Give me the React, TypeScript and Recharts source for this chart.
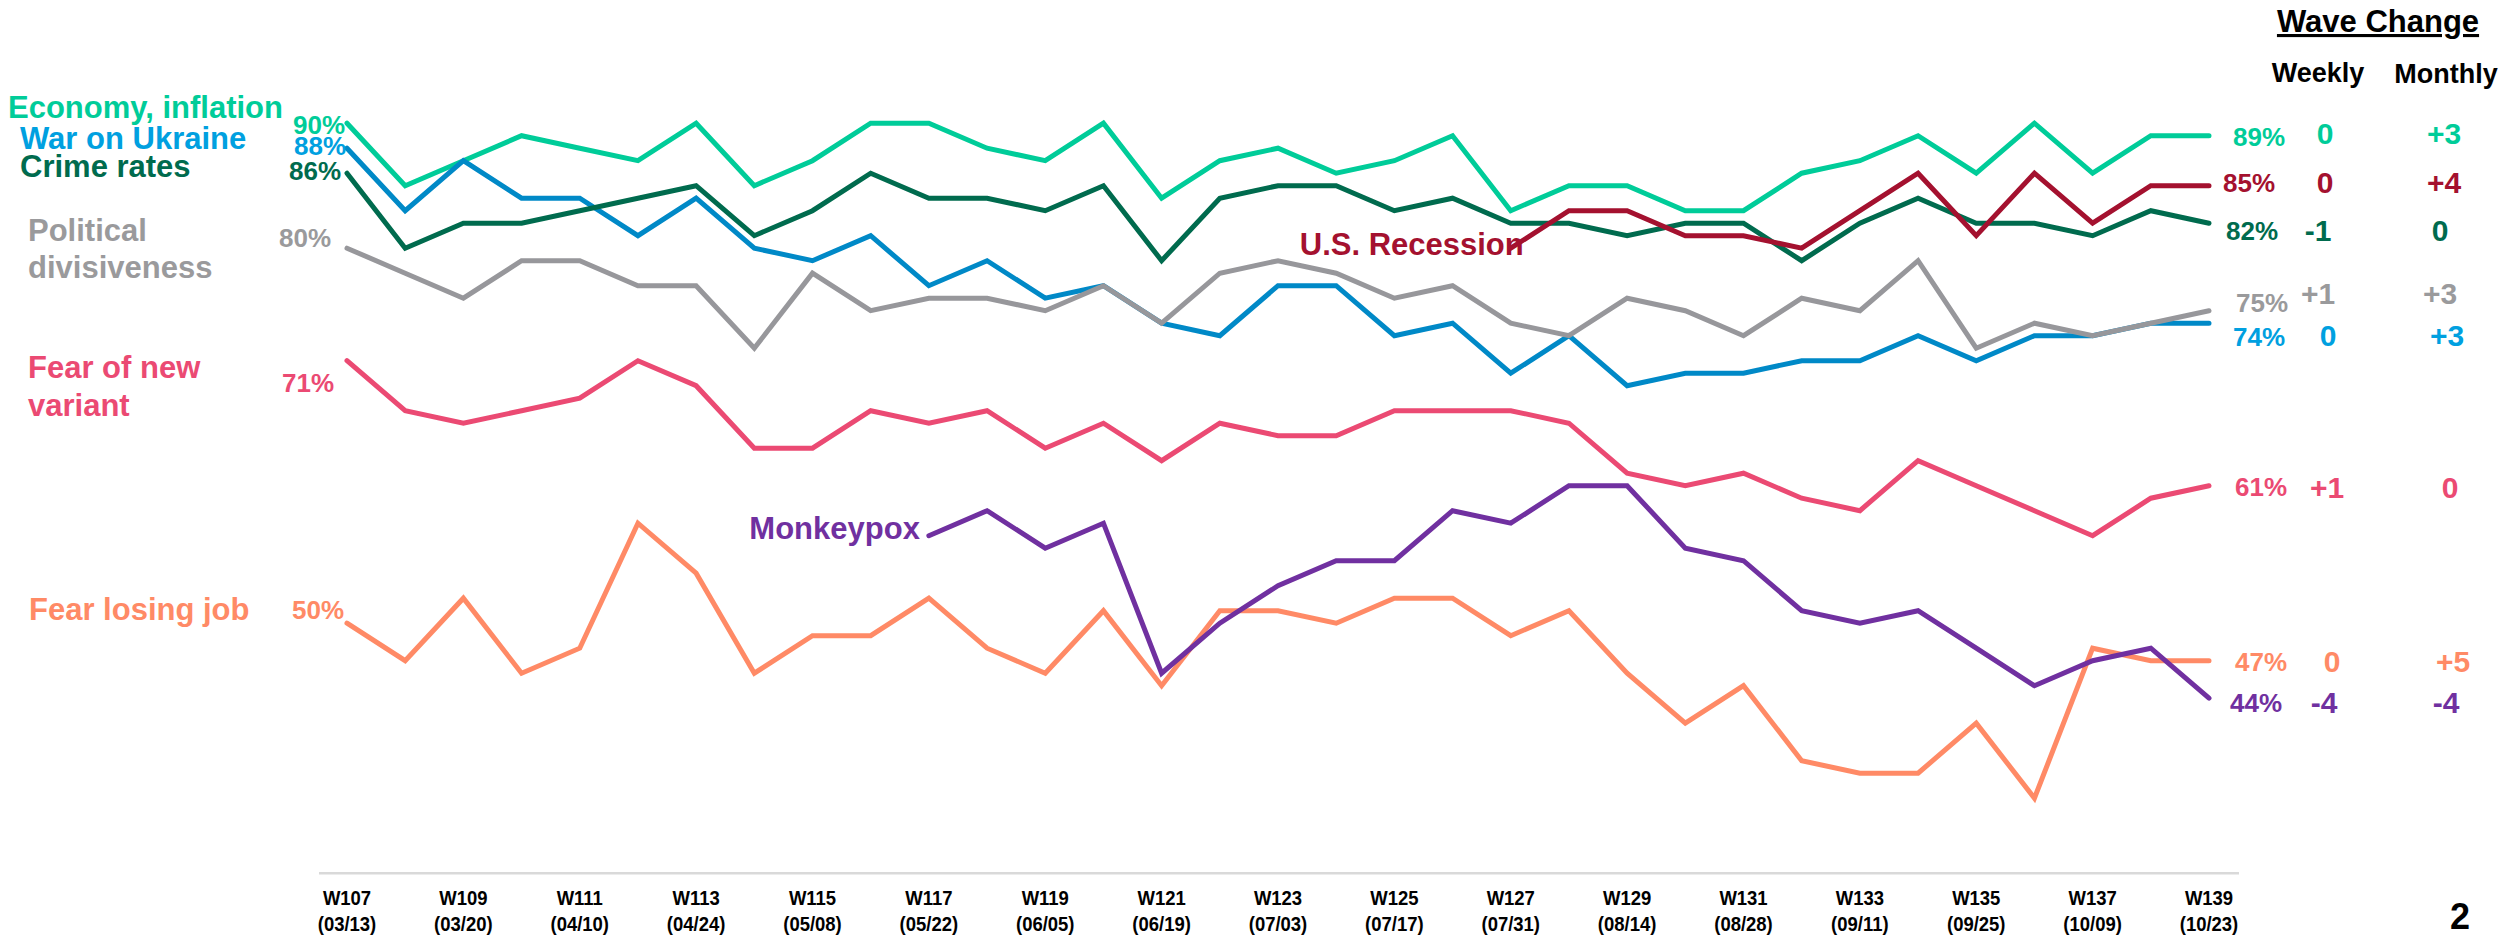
import React from 'react';
import { LineChart, Line, XAxis, YAxis, LabelList } from 'recharts';

const FONT = '"Liberation Sans", Arial, Helvetica, sans-serif';

// ---------- data ----------
const weeks = [
  'W107', 'W108', 'W109', 'W110', 'W111', 'W112', 'W113', 'W114', 'W115', 'W116', 'W117',
  'W118', 'W119', 'W120', 'W121', 'W122', 'W123', 'W124', 'W125', 'W126', 'W127', 'W128',
  'W129', 'W130', 'W131', 'W132', 'W133', 'W134', 'W135', 'W136', 'W137', 'W138', 'W139',
];
const tickWeeks = ['W107', 'W109', 'W111', 'W113', 'W115', 'W117', 'W119', 'W121', 'W123', 'W125', 'W127', 'W129', 'W131', 'W133', 'W135', 'W137', 'W139'];
const tickDates = ['03/13', '03/20', '04/10', '04/24', '05/08', '05/22', '06/05', '06/19', '07/03', '07/17', '07/31', '08/14', '08/28', '09/11', '09/25', '10/09', '10/23'];

const economy = [90, 85, 87, 89, 88, 87, 90, 85, 87, 90, 90, 88, 87, 90, 84, 87, 88, 86, 87, 89, 83, 85, 85, 83, 83, 86, 87, 89, 86, 90, 86, 89, 89];
const ukraine = [88, 83, 87, 84, 84, 81, 84, 80, 79, 81, 77, 79, 76, 77, 74, 73, 77, 77, 73, 74, 70, 73, 69, 70, 70, 71, 71, 73, 71, 73, 73, 74, 74];
const crime = [86, 80, 82, 82, 83, 84, 85, 81, 83, 86, 84, 84, 83, 85, 79, 84, 85, 85, 83, 84, 82, 82, 81, 82, 82, 79, 82, 84, 82, 82, 81, 83, 82];
const recession = [null, null, null, null, null, null, null, null, null, null, null, null, null, null, null, null, null, null, null, null,
  80, 83, 83, 81, 81, 80, 83, 86, 81, 86, 82, 85, 85];
const political = [80, 78, 76, 79, 79, 77, 77, 72, 78, 75, 76, 76, 75, 77, 74, 78, 79, 78, 76, 77, 74, 73, 76, 75, 73, 76, 75, 79, 72, 74, 73, 74, 75];
const variant = [71, 67, 66, 67, 68, 71, 69, 64, 64, 67, 66, 67, 64, 66, 63, 66, 65, 65, 67, 67, 67, 66, 62, 61, 62, 60, 59, 63, 61, 59, 57, 60, 61];
const job = [50, 47, 52, 46, 48, 58, 54, 46, 49, 49, 52, 48, 46, 51, 45, 51, 51, 50, 52, 52, 49, 51, 46, 42, 45, 39, 38, 38, 42, 36, 48, 47, 47];
const monkeypox = [null, null, null, null, null, null, null, null, null, null,
  57, 59, 56, 58, 46, 50, 53, 55, 55, 59, 58, 61, 61, 56, 55, 51, 50, 51, 48, 45, 47, 48, 44];

const seriesKeys = ['economy', 'ukraine', 'crime', 'recession', 'political', 'variant', 'job', 'monkeypox'];
const seriesValues: Record<string, (number | null)[]> = { economy, ukraine, crime, recession, political, variant, job, monkeypox };
const seriesNames: Record<string, string[]> = {
  economy: ['Economy, inflation'],
  ukraine: ['War on Ukraine'],
  crime: ['Crime rates'],
  recession: ['U.S. Recession'],
  political: ['Political', 'divisiveness'],
  variant: ['Fear of new', 'variant'],
  job: ['Fear losing job'],
  monkeypox: ['Monkeypox'],
};
const weeklyChange: Record<string, string> = { economy: '0', recession: '0', crime: '-1', political: '+1', ukraine: '0', variant: '+1', job: '0', monkeypox: '-4' };
const monthlyChange: Record<string, string> = { economy: '+3', recession: '+4', crime: '0', political: '+3', ukraine: '+3', variant: '0', job: '+5', monkeypox: '-4' };

const data = weeks.map((week, i) => ({
  week,
  economy: economy[i],
  ukraine: ukraine[i],
  crime: crime[i],
  recession: recession[i],
  political: political[i],
  variant: variant[i],
  job: job[i],
  monkeypox: monkeypox[i],
}));

// ---------- styles / label placement ----------
type Style = {
  line: string;
  text: string;
  name: { anchor: 'start' | 'end'; dx: number; dy: number[] };
  pct?: { dx: number; dy: number };
  end: { dx: number; dy: number; wdx: number; wdy: number; mdx: number; mdy: number };
};
const STYLES: Record<string, Style> = {
  economy: { line: '#00CC99', text: '#00CC99', name: { anchor: 'start', dx: -339, dy: [-5] }, pct: { dx: -2, dy: 11 },
    end: { dx: 24, dy: 10.6, wdx: 116, wdy: 8, mdx: 235, mdy: 8 } },
  ukraine: { line: '#0089C7', text: '#00A0E0', name: { anchor: 'start', dx: -327, dy: [1] }, pct: { dx: -1, dy: 7 },
    end: { dx: 24, dy: 23, wdx: 119, wdy: 22.5, mdx: 238, mdy: 22.5 } },
  crime: { line: '#006B4E', text: '#006B4E', name: { anchor: 'start', dx: -327, dy: [4] }, pct: { dx: -6, dy: 7 },
    end: { dx: 17, dy: 16.6, wdx: 109, wdy: 18, mdx: 231, mdy: 18 } },
  recession: { line: '#A4112F', text: '#A4112F', name: { anchor: 'end', dx: 13, dy: [7] },
    end: { dx: 14, dy: 6.6, wdx: 116, wdy: 7, mdx: 235, mdy: 7 } },
  political: { line: '#97979B', text: '#9A9A9C', name: { anchor: 'start', dx: -319, dy: [-7, 30] }, pct: { dx: -16, dy: -1 },
    end: { dx: 27, dy: 1.6, wdx: 109, wdy: -7, mdx: 231, mdy: -7 } },
  variant: { line: '#EB4A73', text: '#EB4A73', name: { anchor: 'start', dx: -319, dy: [17, 55] }, pct: { dx: -13, dy: 31 },
    end: { dx: 26, dy: 10.6, wdx: 118, wdy: 12, mdx: 241, mdy: 12 } },
  job: { line: '#FF8A66', text: '#FF8A66', name: { anchor: 'start', dx: -318, dy: [-3] }, pct: { dx: -3, dy: -4 },
    end: { dx: 26, dy: 10.1, wdx: 123, wdy: 11, mdx: 244, mdy: 11 } },
  monkeypox: { line: '#7030A0', text: '#7030A0', name: { anchor: 'end', dx: -9, dy: [3] },
    end: { dx: 21, dy: 13.7, wdx: 115, wdy: 14.5, mdx: 237, mdy: 14.5 } },
};

function makeLabel(key: string) {
  const s = STYLES[key];
  const values = seriesValues[key];
  const first = values.findIndex((v) => v !== null);
  const last = values.length - 1;
  return (props: any) => {
    const index = props.index;
    const x = typeof props.x === 'number' ? props.x : props.viewBox?.x;
    const y = typeof props.y === 'number' ? props.y : props.viewBox?.y;
    if (typeof x !== 'number' || typeof y !== 'number' || Number.isNaN(y)) return null;
    const common = { fontFamily: FONT, fontWeight: 700, fill: s.text };
    if (index === first) {
      return (
        <g>
          {s.pct && (
            <text x={x + s.pct.dx} y={y + s.pct.dy} textAnchor="end" fontSize={26} {...common}>
              {values[index]}%
            </text>
          )}
          {seriesNames[key].map((t, k) => (
            <text key={k} x={x + s.name.dx} y={y + s.name.dy[k]} textAnchor={s.name.anchor} fontSize={31} {...common}>
              {t}
            </text>
          ))}
        </g>
      );
    }
    if (index === last) {
      return (
        <g>
          <text x={x + s.end.dx} y={y + s.end.dy} textAnchor="start" fontSize={26} {...common}>
            {values[index]}%
          </text>
          <text x={x + s.end.wdx} y={y + s.end.wdy} textAnchor="middle" fontSize={30} {...common}>
            {weeklyChange[key]}
          </text>
          <text x={x + s.end.mdx} y={y + s.end.mdy} textAnchor="middle" fontSize={30} {...common}>
            {monthlyChange[key]}
          </text>
        </g>
      );
    }
    return null;
  };
}

const AxisTick = (props: any) => {
  const { x, y, payload } = props;
  const i = tickWeeks.indexOf(payload.value);
  const style = { fontFamily: FONT, fontWeight: 700, fontSize: 21, fill: '#000' };
  return (
    <g>
      <text transform={`translate(${x},${y + 32}) scale(0.88,1)`} textAnchor="middle" {...style}>
        {payload.value}
      </text>
      <text transform={`translate(${x},${y + 58}) scale(0.88,1)`} textAnchor="middle" {...style}>
        ({tickDates[i]})
      </text>
    </g>
  );
};

export default function App() {
  return (
    <div style={{ position: 'absolute', left: 0, top: 0, width: 2506, height: 936, background: '#fff' }}>
      <LineChart
        width={2506}
        height={936}
        data={data}
        margin={{ top: 60.7, right: 267, bottom: 2.8, left: 319 }}
      >
        <XAxis
          dataKey="week"
          ticks={tickWeeks}
          interval={0}
          tick={<AxisTick />}
          tickLine={false}
          tickSize={0}
          tickMargin={0}
          height={60}
          padding={{ left: 28, right: 30 }}
          axisLine={{ stroke: '#D9D9D9', strokeWidth: 2.5 }}
        />
        <YAxis hide type="number" domain={[30, 95]} allowDataOverflow />
        {seriesKeys.map((key) => (
          <Line
            key={key}
            type="linear"
            dataKey={key}
            stroke={STYLES[key].line}
            strokeWidth={5}
            strokeLinecap="round"
            strokeLinejoin="miter"
            dot={false}
            activeDot={false}
            isAnimationActive={false}
          >
            <LabelList dataKey={key} content={makeLabel(key)} />
          </Line>
        ))}
      </LineChart>
      <svg
        width={2506}
        height={936}
        style={{ position: 'absolute', left: 0, top: 0, pointerEvents: 'none' }}
      >
        <text x={2378} y={32} textAnchor="middle" fontFamily={FONT} fontWeight={700} fontSize={31} fill="#000" textDecoration="underline">
          Wave Change
        </text>
        <text x={2318} y={82} textAnchor="middle" fontFamily={FONT} fontWeight={700} fontSize={27} fill="#000">
          Weekly
        </text>
        <text x={2446} y={83} textAnchor="middle" fontFamily={FONT} fontWeight={700} fontSize={27} fill="#000">
          Monthly
        </text>
        <text x={2460} y={929} textAnchor="middle" fontFamily={FONT} fontWeight={700} fontSize={36} fill="#000">
          2
        </text>
      </svg>
    </div>
  );
}
